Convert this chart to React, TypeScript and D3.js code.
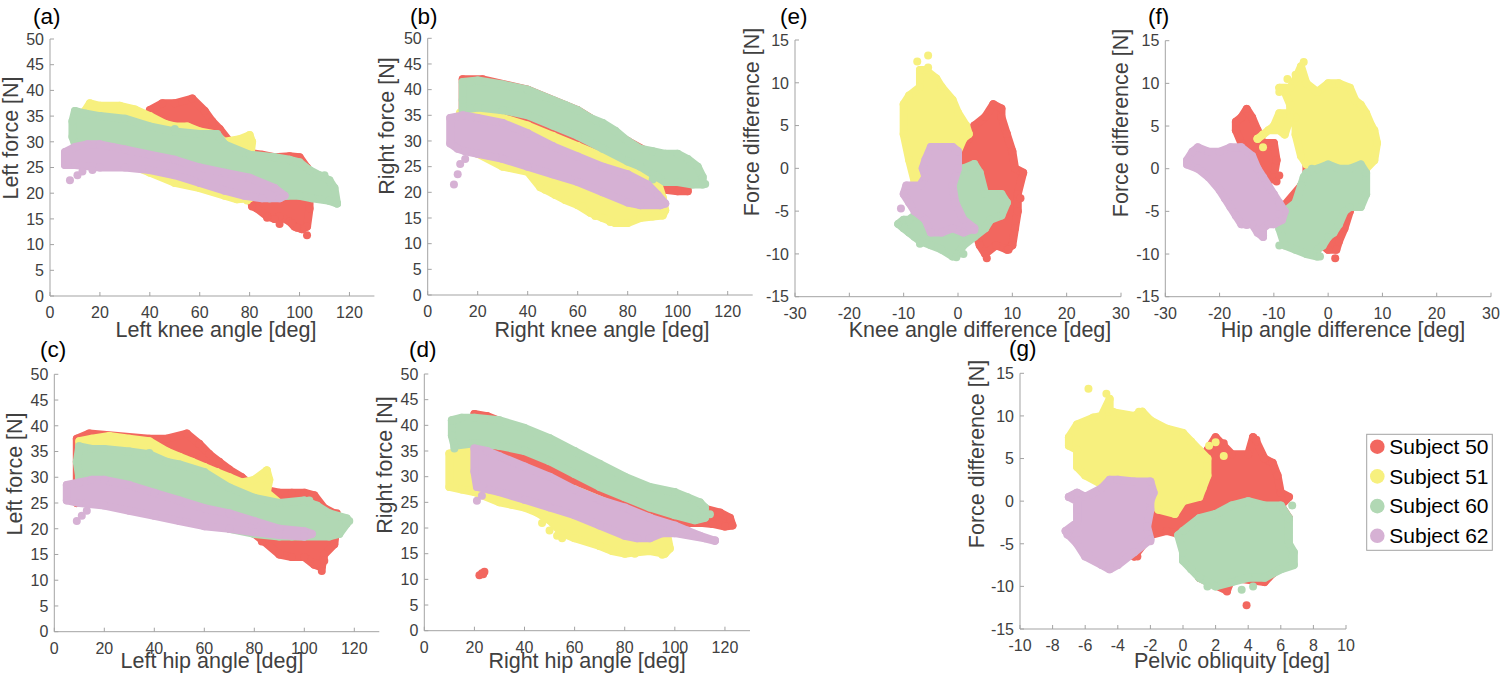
import React from "react";
import * as d3 from "d3";

type Pt = [number, number];

const subjects = ["Subject 50", "Subject 51", "Subject 60", "Subject 62"];
const colors = ["#f2675f", "#f7f07e", "#b1d8b4", "#d6b1d4"];

const ticksAngle = [0, 20, 40, 60, 80, 100, 120];
const ticksForce = [0, 5, 10, 15, 20, 25, 30, 35, 40, 45, 50];
const ticksDiff = [-30, -20, -10, 0, 10, 20, 30];
const ticksDiffForce = [-15, -10, -5, 0, 5, 10, 15];
const ticksPelvic = [-10, -8, -6, -4, -2, 0, 2, 4, 6, 8, 10];

// cloud outlines (x, y in data units), plus stray points

// (a) left knee angle vs left force
const a50: Pt[] = [[40, 36.2], [45, 37.5], [50, 37.5], [57, 38.4], [62, 36], [65, 34], [68, 32.5], [72, 30], [78, 28], [85, 27.5], [90, 27], [96, 27.2], [100, 27], [103, 25], [104, 22], [104, 17], [103, 13.5], [101, 13], [98, 13.5], [96, 14.5], [92, 15.5], [90, 15], [87, 15.5], [83, 17], [81, 17.5], [80, 20], [70, 24], [55, 28], [45, 32], [40, 34]];
const a50Out: Pt[] = [[103, 11.8], [87, 15.2], [81, 17.4], [92, 14], [99, 13.3], [97, 14.2]];
const a51: Pt[] = [[14, 36], [16, 37.5], [20, 37], [28, 37], [34, 36.3], [40, 35], [46, 33.5], [50, 33], [55, 33], [60, 32], [66, 31.5], [70, 30], [76, 30.5], [80, 31.3], [81, 30], [80, 26], [80, 19], [75, 18.8], [70, 19.5], [60, 21], [50, 22], [40, 24], [30, 26], [20, 28], [14, 30]];
const a51Out: Pt[] = [[79, 18.6], [77, 19]];
const a60: Pt[] = [[10, 36], [14, 35.5], [20, 35], [30, 34.5], [40, 33], [50, 32], [60, 31.5], [67, 31.5], [70, 29.5], [80, 27.5], [90, 27], [96, 26.5], [100, 26], [104, 24.5], [108, 23.5], [112, 22.5], [114, 21], [115, 18], [112, 18.5], [105, 19], [100, 19.5], [95, 19.5], [88, 19], [82, 19.5], [78, 20], [70, 22], [60, 23.5], [50, 25], [40, 27], [30, 28.5], [20, 29], [10, 29.5], [9, 31], [9, 34]];
const a60Out: Pt[] = [[115, 18], [110, 23.5], [50, 32.5]];
const a62: Pt[] = [[6, 28], [10, 29], [15, 29.5], [20, 29.5], [25, 29], [30, 28.5], [40, 27.5], [50, 26.5], [60, 25], [70, 24], [80, 23], [90, 21], [94, 19.5], [92, 19], [85, 19], [78, 19.5], [70, 20.5], [60, 22], [50, 23.5], [40, 24.5], [30, 25], [20, 25], [10, 25.5], [6, 25.5]];
const a62Out: Pt[] = [[8, 22.5], [11, 23.5], [13, 24.2], [17, 24.5]];

// (b) right knee angle vs right force
const b50: Pt[] = [[14, 42], [22, 42], [40, 40], [60, 36], [80, 30], [95, 26], [104, 23], [104, 20.2], [100, 20.2], [95, 20.5], [88, 21.5], [80, 23.5], [70, 25.5], [60, 27.5], [50, 30], [40, 32], [30, 33.5], [20, 34.5], [14, 35]];
const b50Out: Pt[] = [[92, 19]];
const b51: Pt[] = [[13, 35.5], [20, 35.3], [30, 34.5], [40, 33], [50, 31], [60, 29], [70, 27], [80, 24.5], [88, 23], [92, 22], [94, 19], [95, 16.5], [94, 15.5], [90, 15.3], [85, 15], [80, 14], [75, 14], [70, 15], [65, 16], [60, 17.5], [55, 18.5], [50, 19.8], [45, 21], [40, 24], [30, 25], [20, 27.5], [14, 28.5]];
const b51Out: Pt[] = [[73, 14.2], [78, 14], [62, 17.2], [51, 19.5], [47, 20.5], [67, 15.4]];
const b60: Pt[] = [[14, 41.5], [20, 41.8], [30, 41], [40, 40], [50, 38], [55, 37], [60, 36], [65, 34.5], [70, 33.5], [75, 32], [80, 30], [85, 28.5], [90, 28], [95, 27.5], [100, 27.5], [104, 26.5], [108, 25], [110, 23], [110, 21.5], [106, 21.5], [100, 22], [95, 22], [90, 23.5], [85, 25], [80, 26], [70, 28.5], [60, 31], [50, 33], [40, 35], [30, 36], [20, 36.5], [14, 36], [14, 38]];
const b60Out: Pt[] = [[111, 21.6], [90, 22.5]];
const b62: Pt[] = [[9, 34.5], [14, 35], [20, 34.5], [30, 33.5], [40, 31.5], [50, 29], [60, 27], [70, 25], [80, 23.5], [88, 21.5], [92, 19.5], [95, 17.8], [93, 17.5], [85, 17.5], [80, 18], [70, 20], [60, 22], [50, 23.5], [40, 25], [30, 26.5], [20, 27.5], [15, 28], [12, 28.5], [9, 29.5]];
const b62Out: Pt[] = [[10.5, 21.5], [12, 23.5], [13, 25.5], [15, 26.5]];

// (c) left hip angle vs left force
const c50: Pt[] = [[9, 37.5], [14, 38.5], [38, 37.5], [45, 37.5], [53, 38.5], [58, 36.5], [62, 34.5], [66, 33], [70, 31.5], [75, 30], [80, 28], [85, 27.5], [90, 27], [95, 27], [100, 27], [104, 26.5], [108, 24], [112, 23], [113, 21], [112, 17], [108, 15], [107, 12.5], [104, 13], [100, 14.5], [95, 14.5], [90, 15], [84, 17.5], [80, 19], [70, 21], [50, 26], [20, 28], [9, 25]];
const c50Out: Pt[] = [[107, 11.8], [105, 13.2], [108, 13.8], [90, 15.2], [83, 17.5], [113, 23]];
const c51: Pt[] = [[10, 37], [15, 37.5], [22, 38], [30, 37.5], [38, 37], [45, 35], [50, 34], [55, 33], [60, 32], [65, 31], [70, 30], [75, 29], [80, 29.5], [85, 31.3], [86, 29.5], [85, 27], [90, 25], [95, 23], [92, 20], [85, 19.5], [80, 20.5], [60, 24], [40, 28], [20, 30], [10, 30]];
const c51Out: Pt[] = [[85, 31.3], [83, 29.8]];
const c60: Pt[] = [[10, 36], [15, 35.5], [20, 35.5], [30, 35], [38, 34.5], [45, 33], [50, 32.5], [60, 31], [70, 28], [80, 26], [90, 25], [100, 25.5], [105, 24.5], [110, 23], [117, 22], [117, 21], [114, 19], [110, 18.5], [100, 18.5], [95, 18.5], [90, 18.5], [80, 19], [70, 20], [60, 22], [50, 24], [40, 26], [30, 27.5], [20, 29], [10, 30], [9, 33]];
const c60Out: Pt[] = [[118, 21.5], [102, 25.5], [38, 34.7]];
const c62: Pt[] = [[5, 28.5], [10, 29], [15, 29.5], [20, 29.5], [30, 28.5], [40, 27], [50, 25.5], [60, 24], [70, 23], [80, 21.5], [90, 20], [100, 19.5], [103, 19], [100, 18.5], [90, 18.8], [80, 19.3], [70, 20], [60, 20.5], [50, 21.5], [40, 22.5], [30, 23.5], [20, 24.5], [10, 25], [5, 25.5]];
const c62Out: Pt[] = [[9, 21.5], [11, 22.5], [13, 23.5]];

// (d) right hip angle vs right force
const d50: Pt[] = [[20, 42.2], [25, 41.8], [40, 39], [60, 34], [80, 29], [100, 25.5], [110, 24], [118, 23], [122, 22], [123, 20.5], [120, 20.3], [115, 20.8], [110, 21], [100, 21], [90, 22.5], [80, 24], [70, 26.5], [60, 28], [50, 30], [40, 32], [30, 35], [20, 38]];
const d50Out: Pt[] = [[22, 10.8], [23, 11.2], [24, 11.5], [23.5, 11]];
const d51: Pt[] = [[10, 34.5], [15, 35], [20, 35], [40, 31], [60, 27.5], [80, 23.5], [90, 22], [97, 18.5], [98, 16], [96, 15], [90, 15.5], [85, 15.3], [80, 15], [75, 15.5], [70, 16.5], [60, 18], [55, 19], [50, 21.5], [45, 23], [40, 24], [35, 24.5], [30, 25], [20, 27], [15, 27.5], [10, 28]];
const d51Out: Pt[] = [[47, 21], [50, 19.5], [53, 18.5], [55, 18], [70, 16.5], [73, 16], [84, 15], [95, 14.8]];
const d60: Pt[] = [[11, 41], [15, 41.5], [20, 41.5], [30, 41], [40, 39.5], [50, 37.5], [60, 35], [70, 32.5], [80, 30], [90, 28], [100, 27], [105, 26], [110, 25], [112, 24], [112, 22], [108, 21.5], [100, 22.5], [90, 24], [80, 26], [70, 28], [60, 30.5], [50, 33], [40, 35], [30, 36], [20, 36.5], [12, 36], [11, 38]];
const d60Out: Pt[] = [[114, 22.7], [12, 35.5]];
const d62: Pt[] = [[20, 35.5], [25, 35], [30, 34], [40, 32], [50, 30], [60, 27.5], [70, 25.5], [80, 24], [90, 22], [100, 20.5], [105, 19.5], [110, 18.5], [116, 17.5], [112, 18], [100, 19], [95, 19], [90, 18], [85, 18], [80, 18.5], [70, 20.5], [60, 22.5], [50, 24], [40, 25.5], [30, 27], [21, 28], [20, 31]];
const d62Out: Pt[] = [[21, 25.3], [23, 26.3], [26, 27.5], [116, 17.6]];

// (e) knee angle difference vs force difference
const e50: Pt[] = [[3, 5], [5, 6], [6.5, 7.5], [8, 7], [8, 6], [9, 4], [10, 2], [10.5, 0], [12, -0.5], [11, -3], [11, -5], [10.5, -7], [10, -9], [9, -9.5], [7, -9], [5, -10], [4, -9], [3.5, -8], [3.5, -6], [2, -4], [0, -1], [-0.5, 0.5], [0, 2], [1, 2.5], [2, 3.5]];
const e50Out: Pt[] = [[5.3, -10.5], [11.5, -3.5], [9.3, -9.5]];
const e51: Pt[] = [[-6, 11.5], [-4, 10.5], [-3, 9.5], [-1, 8], [0, 6.5], [1.5, 5], [2, 4], [1, 3.5], [0, 2], [-0.5, 0], [-1, -1], [-6, -1], [-8, -1.5], [-9, 1], [-10, 4], [-10, 7.5], [-9, 8.5], [-7, 9.5], [-7, 11.5]];
const e51Out: Pt[] = [[-5.5, 13.2], [-7.5, 12.5], [-5.5, 11.8]];
const e60: Pt[] = [[-0.5, -0.5], [1, 0], [3, 0.5], [4, -0.5], [5, -3], [8, -3], [9, -4], [8, -5.5], [6, -6], [5, -7], [3, -8], [1, -9], [0, -10], [-1, -10.3], [-3, -9.5], [-5, -9], [-7, -8.5], [-8, -8], [-9, -7.5], [-10, -7], [-11, -6.5], [-10, -6], [-9, -6], [-7, -5], [-5, -3], [-3, -1], [-1, -1]];
const e60Out: Pt[] = [[-0.3, -10.4], [1, -10], [-7, -8.8]];
const e62: Pt[] = [[-6, 1], [-5, 2.5], [-3, 2.5], [-1, 2.5], [0, 2], [0, 0], [-1, -2], [-0.5, -4], [1, -6], [3, -7], [1, -7.5], [-1, -7], [-3, -7.5], [-5, -7.5], [-6, -6], [-8, -5], [-9, -4], [-10, -3], [-9.5, -2], [-7, -2], [-6, -1], [-6.5, 0]];
const e62Out: Pt[] = [[-10.5, -4.7], [3, -7.2]];

// (f) hip angle difference vs force difference
const f50a: Pt[] = [[-15, 7], [-14, 6], [-13, 4.5], [-12, 3], [-11, 3], [-10, 3], [-9.5, 1], [-10, -1], [-11, -1.5], [-13, -0.5], [-14, 0.5], [-15, 2], [-16, 3], [-17, 4.5], [-17, 5.5], [-16, 6]];
const f50: Pt[] = [[-4, 1.5], [0, 1.5], [3, 0.5], [6, 0], [5, -2], [4, -5], [3, -7], [2, -8.5], [1.5, -9.5], [0, -9.5], [-1, -9], [-2, -5], [-8, -5.5], [-9, -5], [-5, -2], [-4, -1]];
const f50Out: Pt[] = [[1.3, -10.5], [-9.5, -1.5], [-9, -0.8]];
const f51: Pt[] = [[-4, 10], [-2, 9], [0, 10], [2, 10], [4, 9.5], [5, 8], [6, 7.5], [7, 6.5], [8, 5], [8.5, 4.5], [9, 3], [8.5, 1], [7, 0], [5, 0], [3, 0], [1, 0], [-2, 0], [-4, 0.5], [-5, 1.5], [-6, 4], [-6, 6], [-7, 6.5], [-9, 6.5], [-10, 5], [-12, 4], [-13, 3.5], [-11, 4.5], [-9, 4.5], [-8, 4], [-7, 6], [-7, 7.5], [-8, 9], [-9, 9.5], [-7, 9.5], [-6, 10.5], [-5, 12]];
const f51Out: Pt[] = [[-4.5, 12.5], [-6, 11], [-7.5, 10.5], [-9, 9], [-12, 2.5], [-13, 3.5]];
const f60: Pt[] = [[-4, -0.5], [-2, 0], [0, 0.5], [2, 0], [4, 0], [6, 0.5], [7, -0.5], [7, -3], [6, -4.5], [4, -4.5], [3, -5], [2, -6.5], [1, -7.5], [0, -8], [-1, -9], [-2, -9.5], [-2, -10.3], [-4, -10], [-6, -9.5], [-8, -9], [-9, -7], [-9, -6], [-8, -5], [-6, -4], [-5, -2], [-4.5, -1]];
const f60Out: Pt[] = [[-1.5, -10.3], [-9, -9], [-3, 0]];
const f62: Pt[] = [[-26, 1], [-25, 2], [-24, 2.5], [-22, 2], [-20, 2], [-18, 2.5], [-16, 2.5], [-14, 1.5], [-13, 0], [-12, -1], [-11, -2], [-10, -3], [-9, -4], [-8, -5], [-8.5, -6], [-10, -6.5], [-11, -6.5], [-12, -7], [-12, -8], [-13, -7.5], [-14, -6.5], [-16, -6.5], [-17, -5.5], [-18, -4.5], [-19, -3.5], [-20, -2.5], [-22, -1], [-24, 0], [-26, 0.5]];
const f62Out: Pt[] = [[-12, -7.8], [-15, -6.6], [-9, -5.3]];

// (g) pelvic obliquity vs force difference
const g50: Pt[] = [[1.5, 6], [2, 7.5], [3, 5.5], [4, 5.5], [4.3, 7.5], [4.5, 7], [5, 5], [5.5, 4.5], [5.8, 3], [6, 1], [6.5, 0.5], [6, -0.5], [6.5, -2], [6, -4], [6.5, -7], [5.5, -8.5], [5, -9.5], [3, -9], [2.7, -10.5], [1, -9], [0.5, -6], [0, -4], [-1, -3.5], [-2, -4], [-3, -6.5], [-3, -5.5], [-2, -2], [-1, -0.5], [0, 0], [1, 1], [1.5, 3.5]];
const g50Out: Pt[] = [[3.9, -12.2], [2.7, -10.6], [-2.8, -6.5], [4.3, 7.5], [4.5, 7.2], [2.5, 6.8]];
const g51: Pt[] = [[-7, 7.5], [-6.5, 9], [-5.5, 9.8], [-5, 10], [-4.5, 12], [-4.5, 10.5], [-3, 10], [-2.5, 10.5], [-2, 9.5], [-1, 8.5], [0, 8], [0.5, 7], [1, 6], [1.5, 5], [1.5, 3], [1.2, 1.5], [1, 0.5], [0, 0], [-0.5, -1.5], [-1.5, -1], [-2, 0], [-2, 2], [-3, 2.5], [-4, 2.5], [-5, 2], [-6, 3], [-6.5, 4], [-6.5, 6], [-7, 6.5]];
const g51Out: Pt[] = [[-5.8, 13.2], [-4.7, 12.6], [-4.3, 10.5], [-2.7, 10.5], [2.5, 5.3], [1.6, 6.5], [2, 6.9]];
const g60: Pt[] = [[0, -3.5], [1, -2], [2, -1.5], [3, -0.5], [4, 0], [5, -0.5], [6, -0.5], [6.5, -2], [6.5, -5], [6.8, -6], [6.8, -7.5], [6, -8], [5, -9], [4, -9], [3, -9.5], [2, -10], [1, -9], [0.5, -8], [0, -7], [0, -6], [-0.3, -4]];
const g60Out: Pt[] = [[6.7, -0.5], [3.6, -10.4], [4.3, -10], [1.5, -10], [6.7, -6.5], [6.7, -7.5]];
const g62: Pt[] = [[-7, 0.5], [-6.5, 1], [-6, 0.5], [-5, 1.5], [-4.5, 2.5], [-4, 2.5], [-3, 2.3], [-2, 2.3], [-1.8, 1], [-2, 0], [-2, -1], [-2.2, -3], [-2, -4.5], [-3, -6], [-4, -7.5], [-4.5, -8], [-5, -7.5], [-6, -6.5], [-6.5, -5], [-7, -4], [-7.2, -3.5], [-6.5, -2.5], [-6.5, -1], [-6.5, 0]];
const g62Out: Pt[] = [[-7, 0.5], [-7.1, -3.9], [-6.5, -4.6], [-5.8, -6.2], [-2, -4.7]];

type Panel = {
  tag: string;
  tagPos: Pt;
  xDom: Pt;
  yDom: Pt;
  xR: Pt;
  yR: Pt;
  xTicks: number[];
  yTicks: number[];
  xLabel: string;
  yLabel: string;
  xLabPos: Pt;
  yLabPos: Pt;
  clouds: Pt[][][]; // per subject, list of outlines
  outs: Pt[][];
};

const panels: Panel[] = [
  {
    tag: "(a)", tagPos: [33, 24], xDom: [0, 130], yDom: [0, 50], xR: [50, 374.4], yR: [296, 39],
    xTicks: ticksAngle, yTicks: ticksForce, xLabel: "Left knee angle [deg]", yLabel: "Left force [N]",
    xLabPos: [216, 337], yLabPos: [18, 138],
    clouds: [[a50], [a51], [a60], [a62]], outs: [a50Out, a51Out, a60Out, a62Out],
  },
  {
    tag: "(b)", tagPos: [410, 24], xDom: [0, 130], yDom: [0, 50], xR: [427.7, 752.7], yR: [295, 38.3],
    xTicks: ticksAngle, yTicks: ticksForce, xLabel: "Right knee angle [deg]", yLabel: "Right force [N]",
    xLabPos: [602, 337], yLabPos: [394, 126],
    clouds: [[b50], [b51], [b60], [b62]], outs: [b50Out, b51Out, b60Out, b62Out],
  },
  {
    tag: "(c)", tagPos: [40, 357], xDom: [0, 130], yDom: [0, 50], xR: [54.3, 379.3], yR: [631.7, 374.3],
    xTicks: ticksAngle, yTicks: ticksForce, xLabel: "Left hip angle [deg]", yLabel: "Left force [N]",
    xLabPos: [212, 668], yLabPos: [22, 474],
    clouds: [[c50], [c51], [c60], [c62]], outs: [c50Out, c51Out, c60Out, c62Out],
  },
  {
    tag: "(d)", tagPos: [409, 357], xDom: [0, 130], yDom: [0, 50], xR: [424.3, 750], yR: [630.7, 374],
    xTicks: ticksAngle, yTicks: ticksForce, xLabel: "Right hip angle [deg]", yLabel: "Right force [N]",
    xLabPos: [587, 668], yLabPos: [392, 465],
    clouds: [[d50], [d51], [d60], [d62]], outs: [d50Out, d51Out, d60Out, d62Out],
  },
  {
    tag: "(e)", tagPos: [780, 24], xDom: [-30, 30], yDom: [-15, 15], xR: [795, 1121], yR: [296.7, 40],
    xTicks: ticksDiff, yTicks: ticksDiffForce, xLabel: "Knee angle difference [deg]", yLabel: "Force difference [N]",
    xLabPos: [980, 337], yLabPos: [759, 122],
    clouds: [[e50], [e51], [e60], [e62]], outs: [e50Out, e51Out, e60Out, e62Out],
  },
  {
    tag: "(f)", tagPos: [1148, 24], xDom: [-30, 30], yDom: [-15, 15], xR: [1165.3, 1491], yR: [296.7, 40.7],
    xTicks: ticksDiff, yTicks: ticksDiffForce, xLabel: "Hip angle difference [deg]", yLabel: "Force difference [N]",
    xLabPos: [1343, 337], yLabPos: [1128, 123],
    clouds: [[f50a, f50], [f51], [f60], [f62]], outs: [f50Out, f51Out, f60Out, f62Out],
  },
  {
    tag: "(g)", tagPos: [1009, 356], xDom: [-10, 10], yDom: [-15, 15], xR: [1020, 1346], yR: [629, 373.3],
    xTicks: ticksPelvic, yTicks: ticksDiffForce, xLabel: "Pelvic obliquity [deg]", yLabel: "Force difference [N]",
    xLabPos: [1232, 668], yLabPos: [984, 454],
    clouds: [[g50], [g51], [g60], [g62]], outs: [g50Out, g51Out, g60Out, g62Out],
  },
];

const FONT = "'Liberation Sans', Arial, sans-serif";
const AXIS = "#a3a3a3";
const TEXT = "#404040";
const R = 4;

function ScatterPanel({ p }: { p: Panel }) {
  const x = d3.scaleLinear().domain(p.xDom).range(p.xR);
  const y = d3.scaleLinear().domain(p.yDom).range(p.yR);
  const outline = d3
    .line<Pt>()
    .x((d) => x(d[0]))
    .y((d) => y(d[1]))
    .curve(d3.curveLinearClosed);
  const x0 = p.xR[0];
  const y0 = p.yR[0];

  return (
    <g>
      {p.clouds.map((polys, i) => (
        <g key={i} fill={colors[i]}>
          {polys.map((poly, j) => (
            <g key={j}>
              <path
                d={outline(poly) ?? ""}
                stroke={colors[i]}
                strokeWidth={2 * R}
                strokeLinejoin="round"
              />
              {poly.map((d, k) => (
                <circle key={k} cx={x(d[0])} cy={y(d[1])} r={R} />
              ))}
            </g>
          ))}
          {p.outs[i].map((d, k) => (
            <circle key={"o" + k} cx={x(d[0])} cy={y(d[1])} r={R} />
          ))}
        </g>
      ))}

      {/* axes */}
      <line x1={x0} x2={p.xR[1]} y1={y0} y2={y0} stroke={AXIS} />
      <line x1={x0} x2={x0} y1={y0} y2={p.yR[1]} stroke={AXIS} />
      {p.xTicks.map((t) => (
        <g key={"x" + t}>
          <line x1={x(t)} x2={x(t)} y1={y0} y2={y0 - 4} stroke={AXIS} />
          <text x={x(t)} y={y0 + 22} textAnchor="middle" fontSize={16} fill={TEXT}>
            {t}
          </text>
        </g>
      ))}
      {p.yTicks.map((t) => (
        <g key={"y" + t}>
          <line x1={x0} x2={x0 + 4} y1={y(t)} y2={y(t)} stroke={AXIS} />
          <text x={x0 - 6} y={y(t)} dy="0.36em" textAnchor="end" fontSize={16} fill={TEXT}>
            {t}
          </text>
        </g>
      ))}
      <text x={p.xLabPos[0]} y={p.xLabPos[1]} textAnchor="middle" fontSize={21.5} fill={TEXT}>
        {p.xLabel}
      </text>
      <text
        transform={`translate(${p.yLabPos[0]},${p.yLabPos[1]}) rotate(-90)`}
        textAnchor="middle"
        fontSize={21.5}
        fill={TEXT}
      >
        {p.yLabel}
      </text>
      <text x={p.tagPos[0]} y={p.tagPos[1]} fontSize={22.5} fill="#000">
        {p.tag}
      </text>
    </g>
  );
}

export default function App() {
  return (
    <svg
      width={1506}
      height={675}
      style={{ position: "absolute", left: 0, top: 0, background: "#fff" }}
      fontFamily={FONT}
    >
      {panels.map((p) => (
        <ScatterPanel key={p.tag} p={p} />
      ))}
      <g>
        <rect x={1366.7} y={434.3} width={125.6} height={116} fill="#fff" stroke={AXIS} />
        {subjects.map((s, i) => (
          <g key={s}>
            <circle cx={1377.3} cy={446.7 + i * 29.7} r={7.3} fill={colors[i]} />
            <text x={1389.3} y={446.7 + i * 29.7} dy="0.35em" fontSize={21} fill="#000">
              {s}
            </text>
          </g>
        ))}
      </g>
    </svg>
  );
}
